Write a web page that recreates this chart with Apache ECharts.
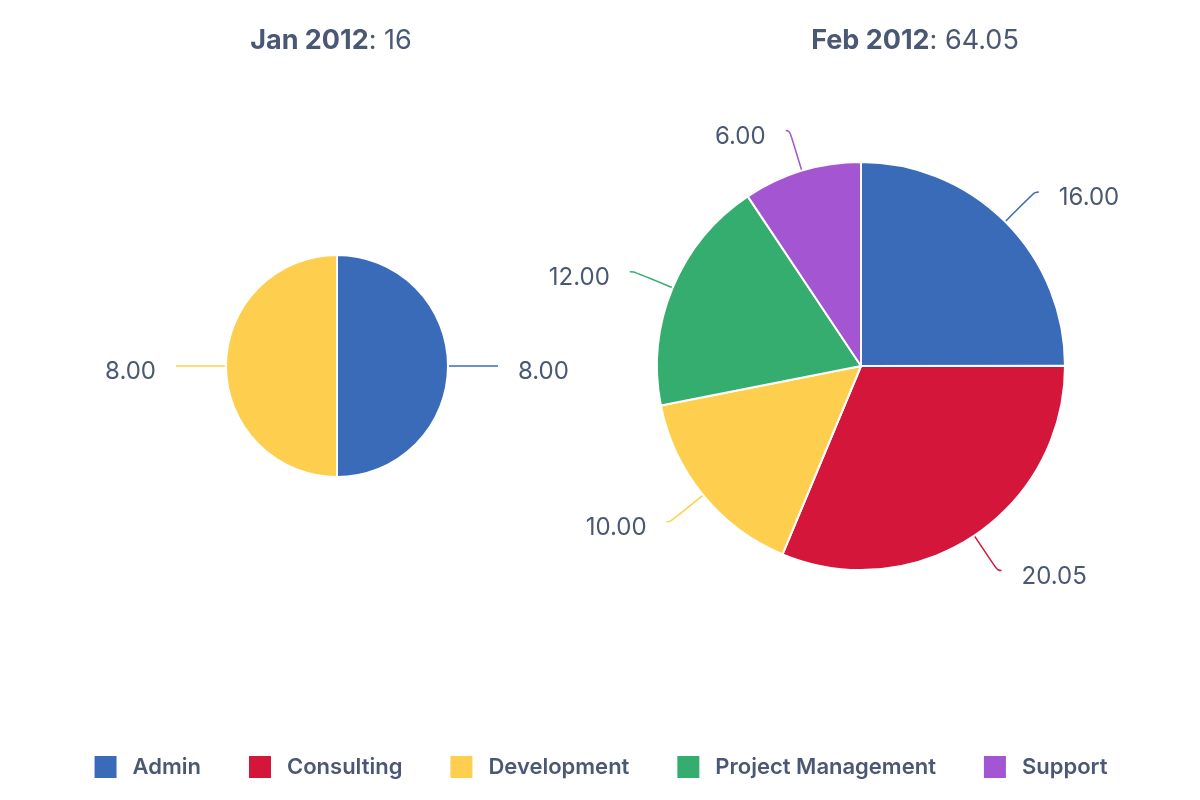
<!DOCTYPE html>
<html>
<head>
<meta charset="utf-8">
<script src="https://cdn.jsdelivr.net/npm/echarts@6/dist/echarts.min.js"></script>
<style>
  html, body { margin: 0; padding: 0; background: #fff; }
  #chart { width: 1200px; height: 800px; }
</style>
</head>
<body>
<div id="chart"></div>
<script>
// data
var categories = ['Admin', 'Consulting', 'Development', 'Project Management', 'Support'];
var colors = ['#3a6bb8', '#d4163b', '#fecf4f', '#34ad6f', '#a455d2'];
var jan2012 = [8, 0, 8, 0, 0];
var feb2012 = [16, 20.05, 10, 12, 6];
var periods = ['Jan 2012', 'Feb 2012'];

var textColor = '#4a5874';
var font = 'Inter, "Noto Sans", sans-serif';

function sum(arr) {
  return arr.reduce(function (a, b) { return a + b; }, 0);
}

function toData(values) {
  var out = [];
  values.forEach(function (v, i) {
    if (v > 0) out.push({ name: categories[i], value: v, itemStyle: { color: colors[i] } });
  });
  return out;
}

function fmtTotal(v) {
  return Math.round(v * 100) / 100 + '';
}

var chart = echarts.init(document.getElementById('chart'));

// value labels sit a little below the end of their leader line
var labelStyle = {
  distanceToLabelLine: 20,
  formatter: function (p) { return '{v|' + p.value.toFixed(2) + '}'; },
  rich: {
    v: { color: textColor, fontFamily: font, fontSize: 24, padding: [12, 0, 0, 0] }
  }
};

var titleRich = {
  b: { fontFamily: font, fontSize: 27, fontWeight: 'bold', color: textColor },
  n: { fontFamily: font, fontSize: 27, fontWeight: 'normal', color: textColor }
};

var option = {
  backgroundColor: '#fff',
  animation: false,
  color: colors,
  title: [
    {
      text: '{b|' + periods[0] + '}{n|: ' + fmtTotal(sum(jan2012)) + '}',
      left: 326, top: 22, textAlign: 'center',
      textStyle: { rich: titleRich }
    },
    {
      text: '{b|' + periods[1] + '}{n|: ' + fmtTotal(sum(feb2012)) + '}',
      left: 910, top: 22, textAlign: 'center',
      textStyle: { rich: titleRich }
    }
  ],
  legend: {
    data: categories,
    bottom: 15,
    left: 'center',
    itemWidth: 24,
    itemHeight: 24,
    itemGap: 46,
    icon: 'rect',
    textStyle: { color: textColor, fontFamily: font, fontSize: 22, fontWeight: 600, padding: [0, 0, 0, 10] }
  },
  series: [
    {
      name: periods[0],
      type: 'pie',
      center: [337, 366],
      radius: 111,
      startAngle: 90,
      clockwise: true,
      itemStyle: { borderColor: '#fff', borderWidth: 2 },
      label: labelStyle,
      labelLine: { length: 0, length2: 50, lineStyle: { width: 1.5 } },
      data: toData(jan2012)
    },
    {
      name: periods[1],
      type: 'pie',
      center: [861, 366],
      radius: 204,
      startAngle: 90,
      clockwise: true,
      itemStyle: { borderColor: '#fff', borderWidth: 2 },
      label: labelStyle,
      labelLine: { length: 42, length2: 4, smooth: 0.5, lineStyle: { width: 1.5 } },
      data: toData(feb2012)
    }
  ]
};

chart.setOption(option);
</script>
</body>
</html>
